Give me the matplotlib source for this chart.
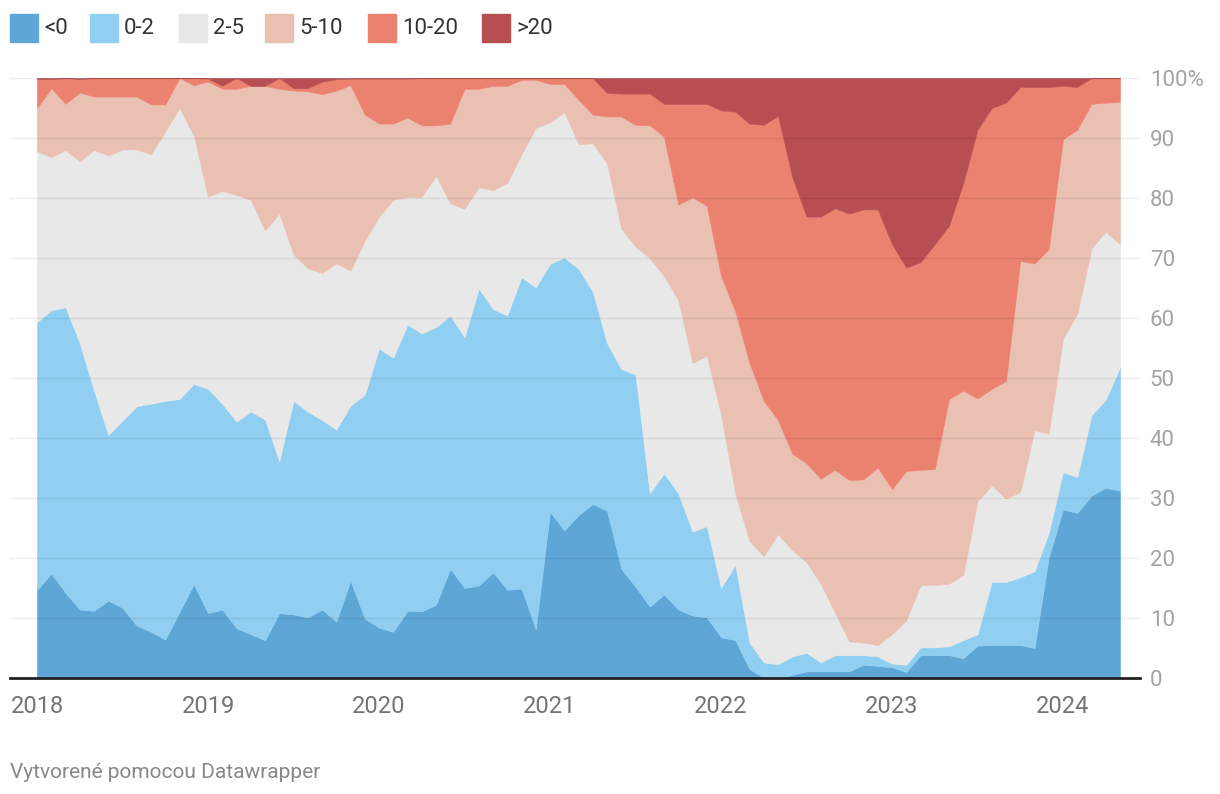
import numpy as np
import matplotlib
matplotlib.use("Agg")
import matplotlib.pyplot as plt
from matplotlib.patches import Rectangle

plt.rcParams['font.family'] = ['Roboto', 'DejaVu Sans']

# mesačné podiely (v %) od 01/2018 do 05/2024
lt0 = [14.7, 17.4, 14.2, 11.4, 11.2, 12.9, 11.7, 8.7, 7.7, 6.4, 11.0, 15.6,
       10.8, 11.4, 8.3, 7.3, 6.3, 10.8, 10.6, 10.1, 11.4, 9.4, 16.2, 9.9,
       8.4, 7.7, 11.2, 11.1, 12.2, 18.2, 15.0, 15.4, 17.6, 14.7, 14.9, 8.1,
       27.7, 24.6, 27.1, 29.0, 27.9, 18.2, 15.2, 11.9, 13.9, 11.4, 10.4, 10.1,
       6.8, 6.3, 1.5, 0.0, 0.0, 0.5, 1.1, 1.1, 1.1, 1.1, 2.2, 2.0,
       1.8, 1.0, 3.8, 3.8, 3.8, 3.3, 5.4, 5.5, 5.5, 5.5, 5.0, 20.1,
       28.1, 27.5, 30.4, 31.7, 31.2]
s0_2 = [44.6, 43.9, 47.6, 44.4, 36.7, 27.6, 31.2, 36.6, 38.0, 39.8, 35.5, 33.4,
        37.4, 34.3, 34.4, 37.1, 36.8, 25.3, 35.6, 34.3, 31.6, 32.0, 29.2, 37.3,
        46.5, 45.7, 47.7, 46.3, 46.3, 42.2, 41.8, 49.5, 43.9, 45.7, 51.9, 57.0,
        41.3, 45.5, 41.1, 35.4, 27.9, 33.3, 35.4, 18.9, 20.2, 19.4, 14.0, 15.2,
        8.2, 12.6, 4.4, 2.6, 2.3, 3.1, 3.1, 1.5, 2.7, 2.7, 1.6, 1.6,
        0.6, 1.2, 1.3, 1.3, 1.5, 3.0, 1.9, 10.5, 10.5, 11.3, 12.8, 4.1,
        6.2, 6.0, 13.4, 14.7, 20.6]
s2_5 = [28.5, 25.5, 26.2, 30.3, 40.1, 46.6, 45.2, 42.8, 41.6, 44.9, 48.5, 41.4,
        32.0, 35.5, 37.8, 35.3, 31.5, 41.3, 24.4, 23.9, 24.5, 27.7, 22.5, 25.7,
        22.0, 26.3, 21.3, 22.8, 25.2, 18.7, 21.4, 16.9, 19.8, 22.1, 20.5, 26.6,
        23.6, 24.2, 20.8, 24.7, 30.0, 23.4, 21.3, 39.2, 32.9, 32.2, 28.1, 28.4,
        28.9, 11.9, 16.9, 17.7, 21.7, 17.7, 15.1, 13.1, 7.1, 2.3, 2.1, 1.9,
        4.9, 7.4, 10.4, 10.4, 10.4, 10.9, 22.2, 16.1, 13.9, 14.2, 23.5, 16.5,
        22.3, 27.2, 27.8, 28.0, 20.5]
s5_10 = [7.2, 11.5, 7.7, 11.5, 8.9, 9.8, 8.8, 8.8, 8.3, 4.5, 5.0, 8.4,
         19.2, 17.0, 17.7, 19.0, 24.1, 20.8, 27.3, 29.5, 29.8, 28.8, 30.9, 21.0,
         15.5, 12.7, 13.2, 11.9, 8.4, 13.3, 20.0, 16.4, 17.4, 16.2, 12.4, 8.0,
         6.4, 4.7, 7.4, 4.8, 7.8, 18.7, 20.3, 22.1, 23.2, 15.9, 27.6, 25.0,
         23.1, 30.3, 29.7, 25.9, 19.0, 16.1, 16.5, 17.5, 23.8, 26.9, 27.2, 29.6,
         24.2, 24.9, 19.2, 19.3, 30.8, 30.7, 17.1, 16.1, 19.6, 38.5, 27.8, 30.8,
         33.2, 30.7, 24.1, 21.5, 23.7]
s10_20 = [4.8, 1.5, 4.3, 2.2, 3.1, 3.1, 3.1, 3.1, 4.4, 4.4, 0.0, 1.2,
          0.5, 0.5, 1.8, 0.0, 0.0, 1.8, 0.4, 0.5, 2.1, 1.9, 1.1, 6.0,
          7.5, 7.5, 6.5, 7.9, 7.9, 7.6, 1.8, 1.8, 1.3, 1.3, 0.3, 0.3,
          1.0, 1.0, 3.6, 6.1, 3.9, 3.8, 5.2, 5.3, 5.5, 16.8, 15.6, 17.0,
          27.6, 33.3, 39.9, 46.0, 50.7, 46.1, 41.1, 43.7, 43.6, 44.4, 45.0, 43.0,
          40.8, 33.9, 34.6, 37.5, 28.9, 34.6, 44.8, 46.8, 46.4, 29.0, 29.4, 27.0,
          8.9, 7.1, 4.3, 4.1, 4.0]
gt20 = [0.2, 0.2, 0.0, 0.2, 0.0, 0.0, 0.0, 0.0, 0.0, 0.0, 0.0, 0.0,
        0.1, 1.3, 0.0, 1.3, 1.3, 0.0, 1.7, 1.7, 0.6, 0.2, 0.1, 0.1,
        0.1, 0.1, 0.1, 0.0, 0.0, 0.0, 0.0, 0.0, 0.0, 0.0, 0.0, 0.0,
        0.0, 0.0, 0.0, 0.0, 2.5, 2.6, 2.6, 2.6, 4.3, 4.3, 4.3, 4.3,
        5.4, 5.6, 7.6, 7.8, 6.3, 16.5, 23.1, 23.1, 21.7, 22.6, 21.9, 21.9,
        27.7, 31.6, 30.7, 27.7, 24.6, 17.5, 8.6, 5.0, 4.1, 1.5, 1.5, 1.5,
        1.3, 1.5, 0.0, 0.0, 0.0]

labels = ['<0', '0-2', '2-5', '5-10', '10-20', '>20']
colors = ['#5da6d6', '#91cff2', '#e8e8e8', '#eac0b3', '#eb826f', '#b74e52']
years = ['2018', '2019', '2020', '2021', '2022', '2023', '2024']

x = np.arange(len(lt0))
series = [lt0, s0_2, s2_5, s5_10, s10_20, gt20]

W, H = 1220, 794
fig = plt.figure(figsize=(W / 100, H / 100), dpi=100)
ax = fig.add_axes([10 / W, 116 / H, 1130 / W, 600 / H])

ax.stackplot(x, *series, colors=colors, edgecolor='face', linewidth=0.4, zorder=1)

step = 1083 / 76
ax.set_xlim(-27 / step, 76 + 20 / step)
ax.set_ylim(0, 100)

for v in range(10, 101, 10):
    ax.axhline(v, color='black', alpha=0.07, lw=1, zorder=3)
ax.axhline(0, color='#222222', lw=2, zorder=4, clip_on=False)

for s in ax.spines.values():
    s.set_visible(False)

ax.set_xticks(np.arange(0, 73, 12))
ax.set_xticklabels(years, fontsize=17, color='#747474')
ax.yaxis.tick_right()
ax.set_yticks(range(0, 101, 10))
ax.set_yticklabels(['0'] + [str(v) for v in range(10, 100, 10)] + ['100%'],
                   fontsize=16, color='#a3a3a3')
ax.tick_params(axis='both', length=0)
ax.tick_params(axis='x', pad=12)
ax.tick_params(axis='y', pad=7)

# legenda
lx = [10, 90, 179, 265, 368, 482]
for px, lab, col in zip(lx, labels, colors):
    fig.patches.append(Rectangle((px / W, 1 - 42 / H), 28 / W, 28 / H,
                                 transform=fig.transFigure, color=col))
    fig.text((px + 34) / W, 1 - 28 / H, lab, fontsize=16, color='#333333',
             va='center', ha='left')

fig.text(10 / W, 1 - 778 / H, 'Vytvorené pomocou Datawrapper', fontsize=15,
         color='#888888', va='baseline', ha='left')

fig.savefig('out.png', dpi=100)
